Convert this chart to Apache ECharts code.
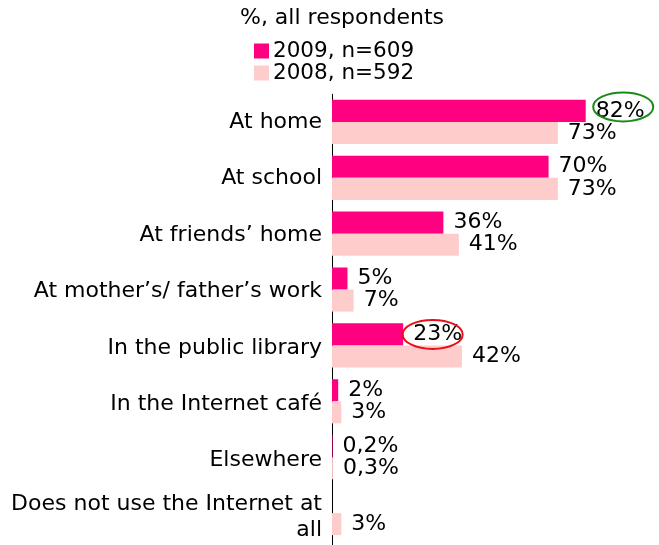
<!DOCTYPE html>
<html>
<head>
<meta charset="utf-8">
<script src="https://cdn.jsdelivr.net/npm/echarts@6/dist/echarts.min.js"></script>
<style>
  html, body { margin: 0; padding: 0; background: #fff; }
  #chart { width: 659px; height: 545px; }
</style>
</head>
<body>
<div id="chart"></div>
<script>
// Where respondents use the Internet
const categories = [
  'At home',
  'At school',
  'At friends\u2019 home',
  'At mother\u2019s/ father\u2019s work',
  'In the public library',
  'In the Internet caf\u00e9',
  'Elsewhere',
  'Does not use the Internet at\nall'
];
const seriesNames = ['2009, n=609', '2008, n=592'];
const values2009 = [82, 70, 36, 5, 23, 2, 0.2, null];
const values2008 = [73, 73, 41, 7, 42, 3, 0.3, 3];
const titleText = '%, all respondents';

// circled labels: [series index, category index, colour]
const highlights = [
  [0, 0, '#1a8a1a'],
  [0, 4, '#e8101a']
];

const FONT = 'DejaVu Sans, Verdana, sans-serif';
const FS = 22;
const colors = ['#FF0080', '#FFCCCC'];

const fmt = p => (p.value == null ? '' : String(p.value).replace('.', ',') + '%');

const chart = echarts.init(document.getElementById('chart'), null, { renderer: 'canvas' });

const valueLabel = {
  show: true, position: 'right', distance: 10, formatter: fmt,
  fontFamily: FONT, fontSize: FS, color: '#000'
};

chart.setOption({
  animation: false,
  backgroundColor: '#fff',
  title: {
    text: titleText,
    left: 342, top: 7, padding: 0,
    textAlign: 'center',
    textStyle: { fontFamily: FONT, fontSize: FS, fontWeight: 'normal', color: '#000' }
  },
  legend: {
    orient: 'vertical',
    left: 254, top: 40, padding: 0,
    itemWidth: 15, itemHeight: 15, itemGap: 0,
    icon: 'rect',
    textStyle: { fontFamily: FONT, fontSize: 21.5, color: '#000', lineHeight: 22, padding: [0, 0, 0, -1] },
    data: seriesNames
  },
  // grid 0 holds the bars, grid 1 carries the category labels and the axis line
  grid: [
    { left: 332, top: 94, width: 309.4, height: 447 },
    { left: 332, top: 94.25, width: 309.4, height: 452 }
  ],
  xAxis: [
    { type: 'value', min: 0, max: 100, show: false, gridIndex: 0 },
    { type: 'value', min: 0, max: 100, show: false, gridIndex: 1 }
  ],
  yAxis: [
    {
      type: 'category', gridIndex: 0, inverse: true, data: categories,
      axisLine: { show: false }, axisTick: { show: false }, axisLabel: { show: false }
    },
    {
      type: 'category', gridIndex: 1, inverse: true, data: categories,
      axisLine: { show: true, lineStyle: { color: '#000', width: 1 } },
      axisTick: { show: false },
      axisLabel: {
        margin: 10, fontFamily: FONT, fontSize: FS, color: '#000',
        lineHeight: 26, align: 'right'
      }
    }
  ],
  series: [
    {
      name: seriesNames[0], type: 'bar', data: values2009,
      xAxisIndex: 0, yAxisIndex: 0,
      itemStyle: { color: colors[0] },
      barGap: '0%', barCategoryGap: '21%',
      label: valueLabel
    },
    {
      name: seriesNames[1], type: 'bar', data: values2008,
      xAxisIndex: 0, yAxisIndex: 0,
      itemStyle: { color: colors[1] },
      barGap: '0%', barCategoryGap: '21%',
      label: valueLabel
    }
  ]
});

// Ellipses round the highlighted value labels, placed from the chart's own scales
const seriesData = [values2009, values2008];
const band = 447 / categories.length;
const barH = band * 0.79 / 2;
const graphics = highlights.map(([s, c, col]) => {
  const v = seriesData[s][c];
  const end = chart.convertToPixel({ gridIndex: 0 }, [v, c]);
  const cy = end[1] + (s === 0 ? -barH / 2 : barH / 2);
  const textW = 49;
  const cx = end[0] + 10 + textW / 2 + (c === 0 ? 3 : -5);
  return {
    type: 'ellipse',
    shape: { cx: cx, cy: cy - (c === 0 ? 4 : 0), rx: 30, ry: 14.5 },
    style: { fill: 'none', stroke: col, lineWidth: 2 },
    z: 100
  };
});
chart.setOption({ graphic: graphics });
</script>
</body>
</html>
